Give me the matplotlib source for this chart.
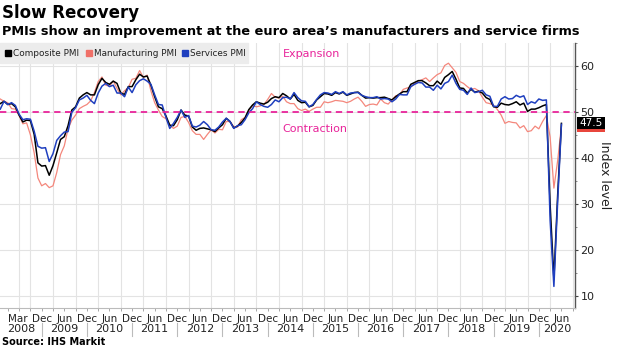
import numpy as np
import matplotlib.pyplot as plt
import matplotlib.transforms as mtransforms
from matplotlib.patches import Rectangle

# Euro area PMIs, monthly from Jan 2008 to Jun 2020
composite = [
    51.8, 52.3, 51.6, 51.8, 51.1, 49.3, 47.8, 48.2, 48.1, 45.1, 38.9, 38.2,
    38.3, 36.2, 38.3, 41.1, 44.0, 44.6, 47.0, 50.4, 51.1, 53.0, 53.7, 54.2,
    53.7, 53.7, 55.9, 57.3, 56.4, 56.0, 56.7, 56.2, 54.1, 53.8, 55.5, 55.5,
    57.0, 58.2, 57.6, 57.8, 55.8, 53.3, 51.1, 50.7, 49.1, 47.1, 47.0, 48.3,
    50.4, 49.3, 49.1, 46.7, 46.0, 46.4, 46.5, 46.3, 46.1, 45.7, 46.5, 47.2,
    48.6, 47.9, 46.5, 46.9, 47.7, 48.7, 50.5, 51.5, 52.2, 51.9, 51.7, 52.1,
    52.9, 53.3, 53.1, 54.0, 53.5, 52.8, 53.8, 52.5, 52.0, 52.1, 51.1, 51.4,
    52.6, 53.3, 54.0, 53.9, 53.6, 54.2, 53.9, 54.3, 53.6, 53.9, 54.2, 54.3,
    53.6, 53.0, 53.1, 53.0, 53.1, 53.1, 53.2, 52.9, 52.6, 53.3, 53.9, 54.4,
    54.4, 56.0, 56.4, 56.8, 56.8, 56.3, 55.7, 55.7, 56.7, 56.0, 57.5, 58.1,
    58.8, 57.1, 55.2, 55.1, 54.1, 54.9, 54.3, 54.5, 54.1, 53.1, 52.7, 51.1,
    51.0, 51.9, 51.6, 51.5, 51.8, 52.2, 51.5, 51.9, 50.1, 50.6, 50.6, 50.9,
    51.3, 51.6, 29.7, 13.6, 31.9, 47.5,
]
manufacturing = [
    52.8, 52.3, 52.0, 50.7, 50.6, 49.2, 47.4, 47.6, 45.0, 41.1, 35.6, 33.9,
    34.4, 33.5, 33.9, 36.8, 40.7, 42.6, 46.3, 48.2, 49.3, 50.7, 51.2, 51.6,
    52.4, 54.2, 56.6, 57.6, 55.8, 55.6, 56.7, 55.1, 53.7, 54.6, 55.3, 57.1,
    57.3, 59.0, 57.5, 58.0, 54.6, 52.0, 50.4, 49.0, 48.5, 47.1, 46.4, 46.9,
    48.8, 49.0, 47.7, 45.9, 45.1, 45.1, 44.0, 45.1, 46.1, 45.4, 46.2, 46.1,
    47.9, 47.9, 46.8, 46.7, 48.3, 48.8, 50.3, 51.4, 51.1, 51.3, 51.6, 52.7,
    54.0, 53.2, 53.0, 53.4, 52.2, 51.8, 51.8, 50.7, 50.3, 50.6, 50.1, 50.6,
    51.0, 51.0, 52.2, 52.0, 52.2, 52.5, 52.4, 52.3, 52.0, 52.3, 52.8, 53.2,
    52.3, 51.2, 51.6, 51.7, 51.5, 52.8, 52.0, 51.7, 52.6, 53.5, 53.7, 54.9,
    55.2, 55.4, 56.2, 56.7, 57.0, 57.4, 56.6, 57.4, 58.1, 58.5, 60.1, 60.6,
    59.6, 58.6, 56.6, 56.2, 55.5, 54.9, 55.1, 54.6, 53.2, 52.0, 51.8, 51.4,
    50.5, 49.3, 47.5, 47.9, 47.7, 47.6, 46.5, 47.0, 45.7, 45.9, 46.9, 46.3,
    47.9, 49.2, 44.5, 33.4, 39.4, 46.9,
]
services = [
    50.6, 52.3, 51.6, 52.0, 51.4, 49.5, 48.3, 48.5, 48.4, 45.8, 42.5, 42.1,
    42.2, 39.2, 40.9, 43.8, 44.8, 45.6, 45.7, 49.9, 50.9, 52.6, 53.0, 53.6,
    52.5, 51.8, 54.1, 55.6, 56.2, 55.5, 55.8, 54.1, 54.1, 53.3, 55.4, 54.2,
    55.9, 56.8, 57.2, 56.7, 56.0, 53.7, 51.6, 51.5, 48.8, 46.4, 47.5, 48.8,
    50.4, 48.8, 49.2, 46.9, 46.7, 47.1, 47.9, 47.2, 46.1, 46.0, 46.7, 47.8,
    48.6, 47.9, 46.4, 47.0, 47.2, 48.3, 49.8, 50.7, 52.2, 51.6, 51.2, 51.0,
    51.6, 52.6, 52.2, 53.1, 53.2, 52.8, 54.2, 53.1, 52.4, 52.3, 51.1, 51.6,
    52.7, 53.7, 54.2, 54.1, 53.8, 54.4, 54.0, 54.4, 53.7, 54.1, 54.2, 54.2,
    53.6, 53.3, 53.1, 53.1, 53.3, 52.8, 52.9, 52.8, 52.2, 52.8, 53.8, 53.7,
    53.7, 55.5, 56.0, 56.4, 56.3, 55.4, 55.4, 54.7, 55.8, 55.0, 56.2, 56.6,
    58.0, 56.2, 54.9, 54.7, 53.8, 55.2, 54.2, 54.4, 54.7, 53.7, 53.4, 51.2,
    51.2, 52.8, 53.3, 52.8, 52.9, 53.6, 53.2, 53.5, 51.6, 52.2, 51.9, 52.8,
    52.5, 52.6, 26.4, 12.0, 30.5, 47.3,
]
years = list(range(2008, 2021))
month_names = ['Jan', 'Feb', 'Mar', 'Apr', 'May', 'Jun',
               'Jul', 'Aug', 'Sep', 'Oct', 'Nov', 'Dec']

BLACK = '#000000'
SALMON = '#f4877c'
BLUE = '#1f3fbf'
PINK = '#e8249a'
GRID = '#e3e3e3'

n = len(composite)
x = np.arange(n)

fig = plt.figure(figsize=(6.2, 3.48), dpi=100)
ax = fig.add_axes([0.0, 0.115, 0.9274, 0.7615])

ax.plot(x, manufacturing, color=SALMON, lw=0.9, zorder=3)
ax.plot(x, composite, color=BLACK, lw=1.1, zorder=4)
ax.plot(x, services, color=BLUE, lw=1.1, zorder=5)

ax.axhline(50, color=PINK, lw=1.3, dashes=(3.5, 2.5), zorder=6)

ax.set_xlim(-0.07, 152.6)
ax.set_ylim(7.3, 65.0)

# quarterly vertical grid, horizontal grid every 10
ax.set_xticks([i for i in range(n + 3) if i % 3 == 2], minor=True)
ax.set_yticks(range(10, 61, 10))
ax.set_yticks(range(15, 66, 10), minor=True)
ax.grid(True, which='minor', axis='x', color=GRID, lw=0.8)
ax.grid(True, which='major', axis='y', color=GRID, lw=0.8)
ax.set_axisbelow(True)

# Mar 2008 first, then every Dec / Jun
major = [2] + [i for i in range(11, n) if i % 12 in (5, 11)]
ax.set_xticks(major)
ax.set_xticklabels([month_names[i % 12] for i in major], fontsize=7.5, color='#222222')
ax.xaxis.get_majorticklabels()[0].set_horizontalalignment('left')
ax.tick_params(axis='x', which='both', length=2.5, width=0.6, color='#999999', pad=1.5)

ax.yaxis.tick_right()
ax.tick_params(axis='y', which='major', length=2.5, width=0.8, color='#444444',
               labelsize=8, labelcolor='#222222', pad=1.5)
ax.tick_params(axis='y', which='minor', length=1.5, width=0.6, color='#777777')
ax.yaxis.set_label_position('right')
ax.set_ylabel('Index level', rotation=270, fontsize=9, labelpad=12, color='#222222')

for side in ['top', 'left']:
    ax.spines[side].set_visible(False)
ax.spines['right'].set_color('#555555')
ax.spines['right'].set_linewidth(1.0)
ax.spines['bottom'].set_color('#bbbbbb')
ax.spines['bottom'].set_linewidth(0.8)

# year row under the month labels
trans = mtransforms.blended_transform_factory(ax.transData, ax.transAxes)
lo, hi = ax.get_xlim()
for k, yr in enumerate(years):
    start = max(k * 12 - 1, lo)
    end = min(k * 12 + 11, hi)
    ax.text((start + end) / 2, -0.08, str(yr), transform=trans, ha='center',
            va='center', fontsize=8, color='#222222', clip_on=False)
    if k > 0:
        ax.plot([k * 12 - 1] * 2, [-0.055, -0.105], transform=trans,
                color='#bbbbbb', lw=0.8, clip_on=False)

ax.text(75, 62.6, 'Expansion', color=PINK, fontsize=8, ha='left', va='center')
ax.text(75, 46.3, 'Contraction', color=PINK, fontsize=8, ha='left', va='center')

# last-value tags on the right axis; the composite tag sits on top
ytrans = mtransforms.blended_transform_factory(ax.transAxes, ax.transData)
tag_x, tag_w, tag_h = 1.004, 0.049, 2.6
for vals, col in [(services, BLUE), (manufacturing, '#e8463c'), (composite, BLACK)]:
    ax.add_patch(Rectangle((tag_x, vals[-1] - tag_h / 2), tag_w, tag_h, transform=ytrans,
                           fc=col, ec='none', clip_on=False, zorder=7))
ax.text(tag_x + tag_w / 2, composite[-1], f'{composite[-1]:.1f}', transform=ytrans,
        color='white', fontsize=7.5, ha='center', va='center', clip_on=False, zorder=8)

# legend strip
fig.patches.append(Rectangle((0, 1 - 63 / 348), 248 / 620, 20 / 348,
                             transform=fig.transFigure, color='#ececec', zorder=0))
items = [('Composite PMI', BLACK, 5), ('Manufacturing PMI', '#f07068', 86),
         ('Services PMI', BLUE, 182)]
for label, col, px in items:
    fig.patches.append(Rectangle((px / 620, 1 - 56 / 348), 6 / 620, 6 / 348,
                                 transform=fig.transFigure, color=col, zorder=1))
    fig.text((px + 8) / 620, 1 - 53 / 348, label, color='#222222', fontsize=6.4,
             ha='left', va='center')

fig.text(2 / 620, 1 - 13 / 348, 'Slow Recovery', fontsize=12, fontweight='bold',
         ha='left', va='center')
fig.text(2 / 620, 1 - 31 / 348,
         'PMIs show an improvement at the euro area\u2019s manufacturers and service firms',
         fontsize=9.3, fontweight='bold', ha='left', va='center')
fig.text(2 / 620, 1 - 342 / 348, 'Source: IHS Markit', fontsize=7, fontweight='bold',
         ha='left', va='center')

fig.savefig('out.png', dpi=100)
